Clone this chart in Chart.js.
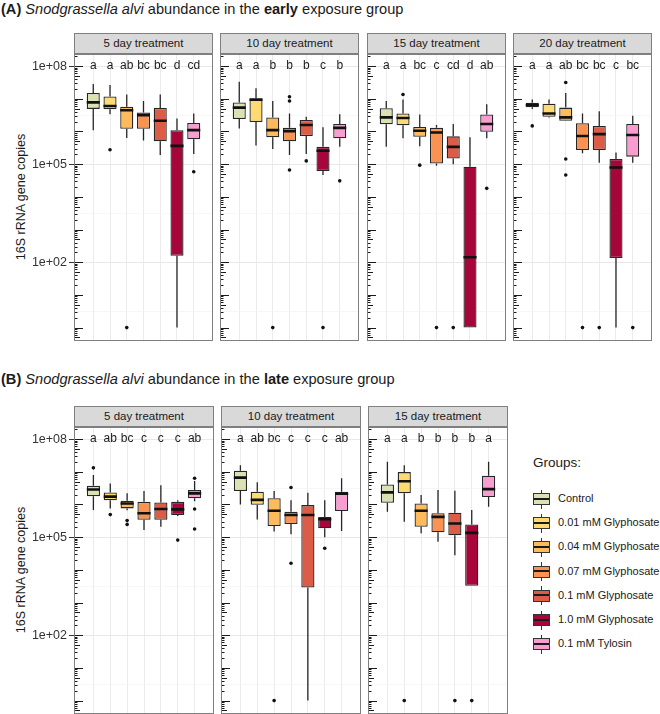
<!DOCTYPE html>
<html>
<head>
<meta charset="utf-8">
<script src="https://cdn.jsdelivr.net/npm/chart.js@4"></script>
<style>
  body { margin: 0; background: #fff; font-family: "Liberation Sans", Arial, sans-serif; color: #1a1a1a; }
  #page { position: relative; width: 660px; height: 714px; overflow: hidden; }
  .title { position: absolute; left: 1px; font-size: 14.6px; white-space: nowrap; }
  .strip { position: absolute; height: 21px; background: #d9d9d9; border: 1px solid #7f7f7f; box-sizing: border-box;
           font-size: 11.5px; text-align: center; line-height: 19px; color: #1a1a1a; }
  canvas { position: absolute; }
  .ylab { position: absolute; width: 220px; text-align: center; font-size: 12.5px; white-space: nowrap; transform: rotate(-90deg); }
  .legtitle { position: absolute; left: 533px; top: 455px; font-size: 13.5px; }
  .key { position: absolute; left: 533px; width: 17px; height: 19px; }
  .key .wh { position: absolute; left: 8px; top: 0; width: 1.3px; height: 19px; background: #333; }
  .key .bx { position: absolute; left: 0; top: 3.5px; width: 17px; height: 12px; border: 1.3px solid #333; box-sizing: border-box; }
  .key .md { position: absolute; left: 0; right: 0; top: 3.7px; height: 2px; background: #1a1a1a; }
  .leglab { position: absolute; left: 558px; font-size: 11px; white-space: nowrap; }
</style>
</head>
<body>
<div id="page">
  <div class="title" style="top:1px"><b>(A)</b> <i>Snodgrassella alvi</i> abundance in the <b>early</b> exposure group</div>
  <div class="title" style="top:371px"><b>(B)</b> <i>Snodgrassella alvi</i> abundance in the <b>late</b> exposure group</div>
  <div class="ylab" style="left:-89px; top:190px">16S rRNA gene copies</div>
  <div class="ylab" style="left:-89px; top:563px">16S rRNA gene copies</div>
  <div class="legtitle">Groups:</div>
</div>
<script>
// treatment groups (one box per group in every facet)
const groups = ["Control", "0.01 mM Glyphosate", "0.04 mM Glyphosate", "0.07 mM Glyphosate",
                "0.1 mM Glyphosate", "1.0 mM Glyphosate", "0.1 mM Tylosin"];
const groupColors = ["#dae1b2", "#fedb72", "#fdbb5c", "#fa9352", "#dd5c48", "#a6063a", "#f89dd0"];

const yTickValues = [1e2, 1e5, 1e8];
const yTickLabels = ["1e+02", "1e+05", "1e+08"];

// box stats per group, log10 copies: [lower whisker, Q1, median, Q3, upper whisker]
// zero counts are drawn at 1 copy (log10 = 0)
const earlyD5Box = [[6.04, 6.69, 6.89, 7.18, 7.45], [6.53, 6.68, 6.78, 7.07, 7.42], [5.80, 6.08, 6.65, 6.76, 7.13],
  [5.72, 6.08, 6.50, 6.58, 6.93], [5.28, 5.70, 6.33, 6.72, 7.13], [0, 2.20, 5.56, 6.04, 6.40], [5.31, 5.76, 6.04, 6.26, 6.55]];
const earlyD5Out = [[], [5.44], [0], [], [], [], [4.77]];
const earlyD5Letters = ["a", "a", "ab", "bc", "bc", "d", "cd"];

const earlyD10Box = [[6.09, 6.38, 6.73, 6.89, 7.52], [5.57, 6.29, 6.97, 7.02, 7.32], [5.46, 5.82, 6.04, 6.43, 6.93],
  [5.28, 5.70, 6.01, 6.11, 6.55], [5.31, 5.86, 6.20, 6.35, 6.45], [4.67, 4.79, 5.41, 5.53, 6.13], [5.53, 5.79, 6.11, 6.23, 6.53]];
const earlyD10Out = [[], [], [0], [7.06, 6.93, 4.82], [5.10], [0], [4.49]];
const earlyD10Letters = ["a", "a", "b", "b", "b", "c", "b"];

const earlyD15Box = [[5.53, 6.22, 6.43, 6.71, 6.93], [5.79, 6.19, 6.41, 6.55, 6.98], [5.55, 5.84, 6.02, 6.14, 6.52],
  [4.95, 5.02, 5.97, 6.11, 6.20], [5.00, 5.17, 5.53, 5.85, 6.23], [0, 0, 2.15, 4.92, 5.82], [5.79, 5.99, 6.23, 6.52, 6.83]];
const earlyD15Out = [[], [7.13], [4.97], [0], [0], [], [4.26]];
const earlyD15Letters = ["a", "a", "bc", "c", "cd", "d", "ab"];

const earlyD20Box = [[6.69, 6.74, 6.81, 6.88, 6.98], [6.43, 6.45, 6.55, 6.85, 6.98], [6.33, 6.33, 6.43, 6.73, 7.18],
  [5.33, 5.43, 5.86, 6.25, 6.55], [5.04, 5.43, 5.92, 6.17, 6.62], [0, 2.13, 4.90, 5.16, 5.36], [5.04, 5.23, 5.89, 6.23, 6.48]];
const earlyD20Out = [[6.17], [], [7.50, 5.16, 4.67], [0], [0], [], [0]];
const earlyD20Letters = ["a", "a", "ab", "bc", "bc", "c", "bc"];

const lateD5Box = [[5.83, 6.25, 6.46, 6.57, 6.90], [5.88, 6.13, 6.24, 6.37, 6.64], [5.82, 5.88, 6.03, 6.11, 6.34],
  [5.22, 5.53, 5.73, 6.08, 6.41], [5.32, 5.53, 5.86, 6.06, 6.59], [5.65, 5.68, 5.85, 6.08, 6.13], [6.10, 6.19, 6.34, 6.44, 6.72]];
const lateD5Out = [[7.12], [5.69], [5.51, 5.39], [], [], [4.91], [6.80, 5.86, 5.25]];
const lateD5Letters = ["a", "ab", "bc", "c", "c", "c", "ab"];

const lateD10Box = [[6.00, 6.41, 6.82, 7.03, 7.20], [5.54, 5.99, 6.14, 6.39, 6.68], [5.17, 5.34, 5.81, 6.19, 6.41],
  [5.09, 5.40, 5.68, 5.78, 6.13], [0, 3.46, 5.68, 5.98, 6.36], [5.00, 5.27, 5.55, 5.62, 6.13], [5.19, 5.80, 6.33, 6.39, 6.80]];
const lateD10Out = [[], [], [0], [6.52, 4.20], [], [4.66], []];
const lateD10Letters = ["a", "ab", "bc", "c", "c", "c", "ab"];

const lateD15Box = [[5.78, 6.05, 6.37, 6.61, 7.31], [5.47, 6.34, 6.71, 6.99, 7.20], [5.12, 5.32, 5.81, 6.03, 6.29],
  [4.86, 5.15, 5.62, 5.73, 6.44], [4.45, 5.06, 5.42, 5.75, 6.42], [3.51, 3.51, 5.13, 5.39, 5.83], [5.93, 6.23, 6.47, 6.88, 7.31]];
const lateD15Out = [[], [0], [], [], [0], [0], []];
const lateD15Letters = ["a", "a", "b", "b", "b", "b", "a"];

const FONT = "'Liberation Sans', Arial, sans-serif";
const page = document.getElementById("page");
const toCopies = e => Math.pow(10, e);

// panel border, inside log ticks and significance letters
const facetDecor = {
  id: "facetDecor",
  afterDatasetsDraw(chart, args, opts) {
    const { ctx, chartArea: a, scales: { x, y } } = chart;
    ctx.save();
    ctx.strokeStyle = "#1a1a1a";
    ctx.lineWidth = 1;
    for (let d = -1; d <= 8; d++) {
      for (let m = 1; m <= 9; m++) {
        const v = m * Math.pow(10, d);
        if (v < y.min || v > y.max) continue;
        const py = Math.round(y.getPixelForValue(v)) + 0.5;
        const len = m === 1 ? 9 : (m === 5 ? 6 : 3.5);
        ctx.beginPath();
        ctx.moveTo(a.left, py);
        ctx.lineTo(a.left + len, py);
        ctx.stroke();
      }
    }
    ctx.fillStyle = "#1a1a1a";
    ctx.font = "12px " + FONT;
    ctx.textAlign = "center";
    ctx.textBaseline = "middle";
    opts.letters.forEach((t, i) => ctx.fillText(t, x.getPixelForValue(i), y.getPixelForValue(1e8)));
    ctx.strokeStyle = "#7f7f7f";
    ctx.strokeRect(a.left + 0.5, a.top + 0.5, a.right - a.left - 1, a.bottom - a.top - 1);
    ctx.restore();
  }
};

function makeFacet(left, top, width, label, box, outliers, letters, showAxis) {
  const axisW = showAxis ? 46 : 0;
  const height = 287;
  const strip = document.createElement("div");
  strip.className = "strip";
  strip.style.left = left + "px";
  strip.style.top = (top - 21) + "px";
  strip.style.width = width + "px";
  strip.textContent = label;
  page.appendChild(strip);

  const cv = document.createElement("canvas");
  cv.width = width + axisW;
  cv.height = height;
  cv.style.left = (left - axisW) + "px";
  cv.style.top = top + "px";
  page.appendChild(cv);

  const boxData = box.map((b, i) => ({ x: i, y: [toCopies(b[1]), toCopies(b[3])] }));
  const medData = [];
  const whiskerData = [];
  box.forEach((b, i) => {
    medData.push({ x: i - 0.39, y: toCopies(b[2]) }, { x: i + 0.39, y: toCopies(b[2]) }, { x: i, y: null });
    whiskerData.push({ x: i, y: toCopies(b[4]) }, { x: i, y: toCopies(b[3]) }, { x: i, y: null },
                     { x: i, y: toCopies(b[1]) }, { x: i, y: toCopies(b[0]) }, { x: i, y: null });
  });
  const outData = [];
  outliers.forEach((o, i) => o.forEach(e => outData.push({ x: i, y: toCopies(e) })));

  new Chart(cv, {
    type: "bar",
    data: {
      datasets: [
        { type: "line", data: medData, borderColor: "#111", borderWidth: 2.6, pointRadius: 0, pointHoverRadius: 0,
          pointBorderWidth: 0, spanGaps: false, order: 0 },
        { type: "scatter", data: outData, backgroundColor: "#111", borderWidth: 0, pointRadius: 1.8,
          pointHoverRadius: 0, order: 0 },
        { type: "bar", data: boxData, backgroundColor: groupColors, borderColor: "#262626", borderWidth: 1.3,
          borderSkipped: false, barPercentage: 0.78, categoryPercentage: 1, order: 1 },
        { type: "line", data: whiskerData, borderColor: "#262626", borderWidth: 1.3, pointRadius: 0, pointHoverRadius: 0,
          pointBorderWidth: 0, spanGaps: false, order: 2 }
      ]
    },
    options: {
      responsive: false,
      animation: false,
      layout: { padding: 0, autoPadding: false },
      plugins: { legend: { display: false }, tooltip: { enabled: false }, facetDecor: { letters: letters } },
      scales: {
        x: {
          type: "linear", min: -1.15, max: 7.15, bounds: "data", offset: false,
          afterBuildTicks: s => { s.ticks = groups.map((g, i) => ({ value: i })); },
          ticks: { display: false },
          grid: { color: "#ebebeb", lineWidth: 1, drawTicks: false, offset: false },
          border: { display: false },
          afterFit: s => { s.height = 0; s.paddingLeft = 0; s.paddingRight = 0; }
        },
        y: {
          type: "logarithmic", min: Math.pow(10, -0.41), max: Math.pow(10, 8.37), bounds: "data",
          afterBuildTicks: s => {
            s.ticks = [Math.pow(10, 0.5), 1e2, Math.pow(10, 3.5), 1e5, Math.pow(10, 6.5), 1e8].map(v => ({ value: v }));
          },
          ticks: {
            display: showAxis, autoSkip: false, padding: 2, color: "#333",
            font: { size: 12.5, family: FONT },
            callback: v => { const k = yTickValues.indexOf(v); return k >= 0 ? yTickLabels[k] : ""; }
          },
          grid: {
            drawTicks: showAxis, tickLength: 5,
            color: c => yTickValues.includes(c.tick.value) ? "#e8e8e8" : "#f3f3f3",
            lineWidth: c => yTickValues.includes(c.tick.value) ? 1 : 0.7,
            tickColor: c => yTickValues.includes(c.tick.value) ? "#333" : "rgba(0,0,0,0)"
          },
          border: { display: false },
          afterFit: s => { s.width = axisW; s.paddingTop = 0; s.paddingBottom = 0; }
        }
      }
    },
    plugins: [facetDecor]
  });
}

// (A) early exposure group
makeFacet(74, 54, 139, "5 day treatment", earlyD5Box, earlyD5Out, earlyD5Letters, true);
makeFacet(220, 54, 139, "10 day treatment", earlyD10Box, earlyD10Out, earlyD10Letters, false);
makeFacet(367, 54, 139, "15 day treatment", earlyD15Box, earlyD15Out, earlyD15Letters, false);
makeFacet(513, 54, 139, "20 day treatment", earlyD20Box, earlyD20Out, earlyD20Letters, false);

// (B) late exposure group
makeFacet(74, 427, 140, "5 day treatment", lateD5Box, lateD5Out, lateD5Letters, true);
makeFacet(221, 427, 140, "10 day treatment", lateD10Box, lateD10Out, lateD10Letters, false);
makeFacet(368, 427, 140, "15 day treatment", lateD15Box, lateD15Out, lateD15Letters, false);

// legend
groups.forEach((g, k) => {
  const cy = 499 + k * 24.2;
  const key = document.createElement("div");
  key.className = "key";
  key.style.top = (cy - 9.5) + "px";
  key.innerHTML = '<div class="wh"></div><div class="bx" style="background:' + groupColors[k] + '"><div class="md"></div></div>';
  page.appendChild(key);
  const lab = document.createElement("div");
  lab.className = "leglab";
  lab.style.top = (cy - 7) + "px";
  lab.textContent = g;
  page.appendChild(lab);
});
</script>
</body>
</html>
